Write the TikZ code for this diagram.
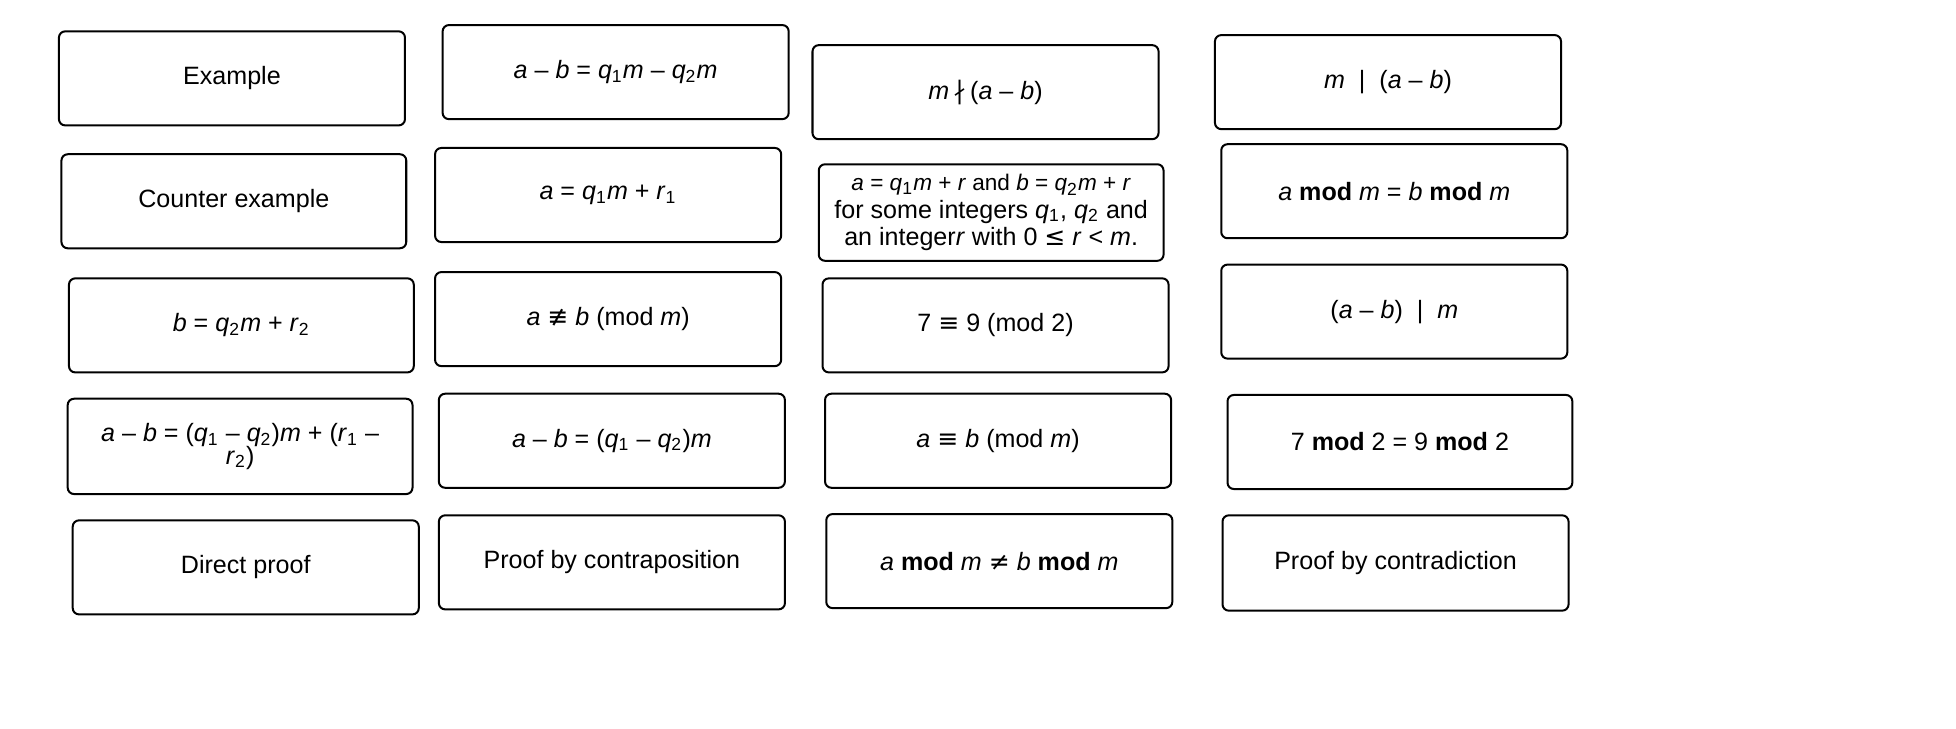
\documentclass[tikz,border=0pt]{standalone}
\usepackage{fontspec}
\setmainfont{Liberation Sans}
\newfontfamily\dv{DejaVu Sans}
\newcommand{\ii}[1]{\textit{#1}}
\newcommand{\sbs}[1]{\textsubscript{\scriptsize #1}}
\newcommand{\sym}[1]{{\dv #1}}
\begin{document}
\begin{tikzpicture}[x=0.5pt,y=-0.5pt,
  card/.style={draw,line width=0.8pt,rounded corners=2.5pt},
  lbl/.style={font=\fontsize{10}{11}\selectfont,align=center}]
\useasboundingbox (0,0) rectangle (1560,580.7);
\newcommand{\card}[6]{\draw[card] (#2,#3) rectangle (#4,#5);
  \node[lbl] (#1) at ({(#2+#4)/2},{(#3+#5)/2}) {#6};}
% column 1
\card{c11}{47}{25}{323}{100}{Example}
\card{c12}{49}{123}{324}{198}{Counter example}
\card{c13}{55}{222}{330}{297}{\ii{b} = \ii{q}\sbs{2}\ii{m} + \ii{r}\sbs{2}}
\card{c14}{54}{318}{329}{394}{\ii{a} – \ii{b} = (\ii{q}\sbs{1} – \ii{q}\sbs{2})\ii{m} + (\ii{r}\sbs{1} –\\[-2pt]\ii{r}\sbs{2})}
\card{c15}{58}{415}{334}{490}{Direct proof}
% column 2
\card{c21}{353}{20}{629}{95}{\ii{a} – \ii{b} = \ii{q}\sbs{1}\ii{m} – \ii{q}\sbs{2}\ii{m}}
\card{c22}{347}{118}{623}{193}{\ii{a} = \ii{q}\sbs{1}\ii{m} + \ii{r}\sbs{1}}
\card{c23}{347}{217}{623}{292}{\ii{a} \sym{≢} \ii{b} (mod \ii{m})}
\card{c24}{350}{314}{626}{389}{\ii{a} – \ii{b} = (\ii{q}\sbs{1} – \ii{q}\sbs{2})\ii{m}}
\card{c25}{350}{411}{626}{486}{Proof by contraposition}
% column 3
\card{c31}{648}{36}{924}{111}{\ii{m}\,\sym{∤}\,(\ii{a} – \ii{b})}
\card{c32}{653}{131}{928}{208}{\fontsize{9}{10}\selectfont\ii{a} = \ii{q}\sbs{1}\ii{m} + \ii{r} and \ii{b} = \ii{q}\sbs{2}\ii{m} + \ii{r}\\for some integers \ii{q}\sbs{1}, \ii{q}\sbs{2} and\\an integer\ii{r} with 0 \sym{≤} \ii{r} < \ii{m}.}
\card{c33}{656}{222}{932}{297}{7 \sym{≡} 9 (mod 2)}
\card{c34}{658}{314}{934}{389}{\ii{a} \sym{≡} \ii{b} (mod \ii{m})}
\card{c35}{659}{410}{935}{485}{\ii{a} \textbf{mod} \ii{m} \sym{≠} \ii{b} \textbf{mod} \ii{m}}
% column 4
\card{c41}{969}{28}{1245}{103}{\ii{m}\ \ |\ \ (\ii{a} – \ii{b})}
\card{c42}{974}{115}{1250}{190}{\ii{a} \textbf{mod} \ii{m} = \ii{b} \textbf{mod} \ii{m}}
\card{c43}{974}{211}{1250}{286}{(\ii{a} – \ii{b})\ \ |\ \ \ii{m}}
\card{c44}{979}{315}{1254}{390}{7 \textbf{mod} 2 = 9 \textbf{mod} 2}
\card{c45}{975}{411}{1251}{487}{Proof by contradiction}
\end{tikzpicture}
\end{document}
